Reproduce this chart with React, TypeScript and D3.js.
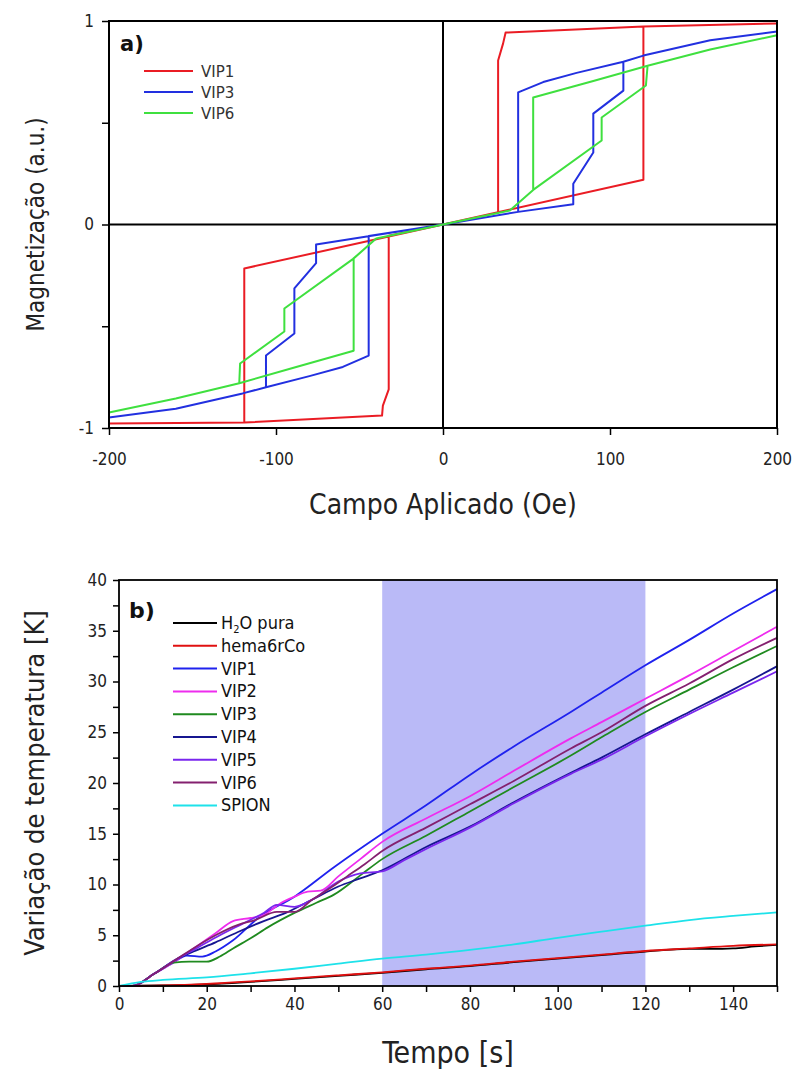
import * as d3 from "d3";
import { useEffect, useRef } from "react";

const W = 795;
const H = 1072;
const COND = "'DejaVu Sans Condensed', 'DejaVu Sans', sans-serif";
const SANS = "'DejaVu Sans', sans-serif";

// ---- panel a) hysteresis loops: [campo (Oe), magnetização (a.u.)]
const campoTicks = [-200, -100, 0, 100, 200];
const magTicks = [-1, -0.5, 0, 0.5, 1];
const magLabels = [-1, 0, 1];

const vip1Loop = [
  [-200, -0.978], [-119, -0.973], [-36.5, -0.939], [-36, -0.89], [-32.5, -0.81],
  [-32.5, -0.055], [0, 0], [120, 0.22], [120, 0.973], [200, 0.988],
  [120, 0.973], [37.5, 0.943], [36, 0.89], [33, 0.806], [33, 0.059], [0, 0],
  [-119, -0.216], [-119, -0.973], [-200, -0.978],
];
const vip3Loop = [
  [-200, -0.948], [-160, -0.905], [-120, -0.83], [-106, -0.8], [-80, -0.745], [-60, -0.7],
  [-44.5, -0.644], [-44.5, -0.056], [0, 0], [45, 0.062], [78, 0.1], [78, 0.2], [90, 0.354],
  [90, 0.545], [108, 0.658], [108, 0.8], [120, 0.83], [160, 0.905], [200, 0.948],
  [160, 0.905], [120, 0.83], [108, 0.8], [80, 0.745], [60, 0.7], [45, 0.649], [45, 0.062],
  [0, 0], [-76, -0.098], [-76, -0.19], [-89, -0.314], [-89, -0.536], [-106, -0.644],
  [-106, -0.8], [-120, -0.83], [-160, -0.905], [-200, -0.948],
];
const vip6Loop = [
  [-200, -0.924], [-160, -0.855], [-122, -0.78], [-90, -0.705], [-53.5, -0.62],
  [-53.5, -0.167], [-40, -0.069], [0, 0], [40, 0.069], [54, 0.17], [95, 0.413],
  [95, 0.526], [121.5, 0.683], [122.5, 0.78], [160, 0.86], [200, 0.93],
  [160, 0.86], [122.5, 0.78], [90, 0.705], [54, 0.624], [54, 0.17], [40, 0.069], [0, 0],
  [-40, -0.069], [-54, -0.17], [-95, -0.413], [-95, -0.526], [-121.5, -0.683],
  [-122, -0.78], [-160, -0.855], [-200, -0.924],
];
const loopNames = ["VIP1", "VIP3", "VIP6"];
const loopColors = ["#ea1c24", "#2230e0", "#3fe03f"];
const loops = [vip1Loop, vip3Loop, vip6Loop];

// ---- panel b) heating curves: [tempo (s), variação de temperatura (K)]
const tempoTicks = d3.range(0, 151, 10);
const tempoLabels = d3.range(0, 141, 20);
const tempTicks = d3.range(0, 40.1, 2.5);
const tempLabels = d3.range(0, 41, 5);
const campoOn = [60, 120];

const h2o = [
  [0, 0], [10, 0.05], [20, 0.15], [30, 0.4], [40, 0.7], [50, 1.0], [60, 1.3], [70, 1.65],
  [80, 1.95], [90, 2.35], [100, 2.7], [110, 3.05], [120, 3.4], [130, 3.65], [135, 3.65],
  [140, 3.7], [145, 3.9], [150, 4.05],
];
const hema6rCo = [
  [0, 0], [10, 0.05], [20, 0.2], [30, 0.45], [40, 0.75], [50, 1.05], [60, 1.35], [70, 1.7],
  [80, 2.0], [90, 2.4], [100, 2.75], [110, 3.1], [120, 3.45], [130, 3.7], [140, 3.95], [150, 4.1],
];
const vip1 = [
  [0, 0], [3, 0], [8, 1.2], [12, 2.2], [15.5, 3.0], [19, 2.9], [22, 3.4], [26, 4.5], [32, 6.8],
  [40, 8.8], [49, 11.7], [60, 15.0], [70, 17.8], [80, 20.8], [90, 23.6], [103, 27.0],
  [110, 28.9], [120, 31.6], [130, 34.1], [140, 36.7], [150, 39.1],
];
const vip2 = [
  [0, 0], [3, 0], [8, 1.2], [13, 2.5], [18, 4.0], [22, 5.2], [26, 6.4], [30, 6.7], [33, 7.0],
  [37, 8.2], [40, 8.8], [43, 9.3], [46, 9.4], [50, 10.8], [55, 12.5], [60, 14.2], [70, 16.5],
  [80, 18.7], [90, 21.2], [103, 24.4], [110, 26.0], [120, 28.3], [130, 30.6], [140, 33.0],
  [150, 35.4],
];
const vip3 = [
  [0, 0], [3, 0], [8, 1.2], [12.5, 2.3], [16, 2.4], [20, 2.4], [23, 2.9], [26, 3.7], [30, 4.7],
  [34, 5.8], [40, 7.2], [45, 8.2], [49, 9.0], [55, 10.9], [60, 12.5], [70, 14.8], [80, 17.2],
  [90, 19.6], [103, 22.7], [110, 24.5], [120, 27.0], [130, 29.2], [140, 31.4], [150, 33.5],
];
const vip4 = [
  [0, 0], [3, 0], [8, 1.2], [13, 2.6], [17, 3.4], [22, 4.3], [27, 5.3], [33, 6.4], [38, 7.2],
  [44, 8.5], [50, 9.8], [55, 10.6], [60, 11.4], [70, 13.7], [80, 15.7], [90, 18.1],
  [103, 21.0], [110, 22.5], [120, 24.8], [130, 27.0], [140, 29.2], [150, 31.5],
];
const vip5 = [
  [0, 0], [3, 0], [8, 1.2], [13, 2.6], [18, 3.8], [23, 5.0], [28, 6.1], [33, 7.2], [36, 8.0],
  [40, 7.8], [44, 8.5], [50, 10.3], [55, 11.1], [60, 11.3], [65, 12.4], [70, 13.5],
  [80, 15.6], [90, 18.0], [103, 20.9], [110, 22.3], [120, 24.6], [130, 26.8], [140, 28.9],
  [150, 31.0],
];
const vip6 = [
  [0, 0], [3, 0], [8, 1.2], [13, 2.6], [18, 4.0], [22, 5.0], [27, 6.0], [31, 6.5], [36, 7.3],
  [40, 7.3], [44, 8.5], [48, 9.6], [52, 10.8], [56, 12.0], [60, 13.3], [70, 15.6], [80, 17.9],
  [90, 20.2], [103, 23.4], [110, 25.0], [120, 27.6], [130, 29.8], [140, 32.2], [150, 34.3],
];
const spion = [
  [0, 0], [5, 0.4], [10, 0.6], [20, 0.85], [30, 1.25], [40, 1.7], [50, 2.2], [60, 2.7],
  [70, 3.1], [80, 3.55], [90, 4.1], [100, 4.75], [110, 5.35], [120, 5.94], [130, 6.5],
  [140, 6.9], [150, 7.25],
];
const heatNames = ["H2O pura", "hema6rCo", "VIP1", "VIP2", "VIP3", "VIP4", "VIP5", "VIP6", "SPION"];
const heatColors = ["#000000", "#e01010", "#1f22ee", "#ee2cee", "#1f8a1f", "#161690", "#7a26ee", "#84206f", "#1ee2ea"];
const heatSeries = [h2o, hema6rCo, vip1, vip2, vip3, vip4, vip5, vip6, spion];

function styleAxis(g, size) {
  g.select(".domain").remove();
  g.selectAll("line").attr("stroke", "#000").attr("stroke-width", 1.5);
  g.selectAll("text").attr("font-family", COND).attr("font-size", size).attr("fill", "#222");
}

function drawHysteresis(g) {
  const left = 109, right = 777, top = 21, bottom = 428;
  const x = d3.scaleLinear().domain([-200, 200]).range([left, right]);
  const y = d3.scaleLinear().domain([-1, 1]).range([bottom, top]);

  // crosshair at zero
  g.append("line").attr("x1", x(0)).attr("x2", x(0)).attr("y1", top).attr("y2", bottom)
    .attr("stroke", "#000").attr("stroke-width", 2);
  g.append("line").attr("x1", left).attr("x2", right).attr("y1", y(0)).attr("y2", y(0))
    .attr("stroke", "#000").attr("stroke-width", 2);

  const line = d3.line().x((d) => x(d[0])).y((d) => y(d[1]));
  loops.forEach((pts, i) => {
    g.append("path").attr("d", line(pts)).attr("fill", "none")
      .attr("stroke", loopColors[i]).attr("stroke-width", 2).attr("stroke-linejoin", "round");
  });

  g.append("rect").attr("x", left).attr("y", top).attr("width", right - left).attr("height", bottom - top)
    .attr("fill", "none").attr("stroke", "#000").attr("stroke-width", 2);

  const xa = g.append("g").attr("transform", `translate(0,${bottom})`)
    .call(d3.axisBottom(x).tickValues(campoTicks).tickSize(7).tickPadding(18).tickFormat((d) => String(d)));
  styleAxis(xa, 17);
  const ya = g.append("g").attr("transform", `translate(${left},0)`)
    .call(d3.axisLeft(y).tickValues(magTicks).tickSize(7).tickPadding(8)
      .tickFormat((d) => (magLabels.includes(d) ? String(d) : "")));
  styleAxis(ya, 17);

  g.append("text").attr("x", (left + right) / 2).attr("y", 514).attr("text-anchor", "middle")
    .attr("font-family", COND).attr("font-size", 28).attr("fill", "#222").text("Campo Aplicado (Oe)");
  g.append("text").attr("transform", `translate(44,${y(0)}) rotate(-90)`).attr("text-anchor", "middle")
    .attr("font-family", COND).attr("font-size", 24).attr("fill", "#222").text("Magnetização (a.u.)");

  g.append("text").attr("x", 120).attr("y", 51).attr("font-family", SANS).attr("font-weight", "bold")
    .attr("font-size", 21).attr("fill", "#111").text("a)");
  loopNames.forEach((n, i) => {
    const ly = 71 + i * 21;
    g.append("line").attr("x1", 144).attr("x2", 193).attr("y1", ly).attr("y2", ly)
      .attr("stroke", loopColors[i]).attr("stroke-width", 2);
    g.append("text").attr("x", 201).attr("y", ly + 6).attr("font-family", SANS).attr("font-size", 15)
      .attr("fill", "#333").text(n);
  });
}

function drawHeating(g) {
  const left = 119, right = 777, top = 580, bottom = 986;
  const x = d3.scaleLinear().domain([0, 150]).range([left, right]);
  const y = d3.scaleLinear().domain([0, 40]).range([bottom, top]);

  g.append("rect").attr("x", x(campoOn[0])).attr("y", top).attr("width", x(campoOn[1]) - x(campoOn[0]))
    .attr("height", bottom - top).attr("fill", "#babaf7");

  const line = d3.line().x((d) => x(d[0])).y((d) => y(d[1])).curve(d3.curveMonotoneX);
  heatSeries.forEach((pts, i) => {
    g.append("path").attr("d", line(pts)).attr("fill", "none")
      .attr("stroke", heatColors[i]).attr("stroke-width", 1.8).attr("stroke-linejoin", "round");
  });

  g.append("rect").attr("x", left).attr("y", top).attr("width", right - left).attr("height", bottom - top)
    .attr("fill", "none").attr("stroke", "#000").attr("stroke-width", 1.8);

  const xa = g.append("g").attr("transform", `translate(0,${bottom})`)
    .call(d3.axisBottom(x).tickValues(tempoTicks).tickSize(6).tickPadding(6)
      .tickFormat((d) => (tempoLabels.includes(d) ? String(d) : "")));
  styleAxis(xa, 17);
  const ya = g.append("g").attr("transform", `translate(${left},0)`)
    .call(d3.axisLeft(y).tickValues(tempTicks).tickSize(6).tickPadding(6)
      .tickFormat((d) => (tempLabels.includes(d) ? String(d) : "")));
  styleAxis(ya, 17);

  g.append("text").attr("x", (left + right) / 2).attr("y", 1063).attr("text-anchor", "middle")
    .attr("font-family", COND).attr("font-size", 30).attr("fill", "#222").text("Tempo [s]");
  g.append("text").attr("transform", `translate(44,${(top + bottom) / 2}) rotate(-90)`).attr("text-anchor", "middle")
    .attr("font-family", COND).attr("font-size", 27).attr("fill", "#222").text("Variação de temperatura [K]");

  g.append("text").attr("x", 129).attr("y", 618).attr("font-family", SANS).attr("font-weight", "bold")
    .attr("font-size", 22).attr("fill", "#111").text("b)");
  heatNames.forEach((n, i) => {
    const ly = 623 + i * 22.8;
    g.append("line").attr("x1", 173).attr("x2", 217).attr("y1", ly).attr("y2", ly)
      .attr("stroke", heatColors[i]).attr("stroke-width", 2);
    const t = g.append("text").attr("x", 221).attr("y", ly + 6).attr("font-family", COND)
      .attr("font-size", 18).attr("fill", "#111");
    if (i === 0) {
      t.append("tspan").text("H");
      t.append("tspan").attr("font-size", 11).attr("dy", 4).text("2");
      t.append("tspan").attr("dy", -4).text("O pura");
    } else {
      t.text(n);
    }
  });
}

export default function App() {
  const ref = useRef(null);
  useEffect(() => {
    const svg = d3.select(ref.current);
    svg.selectAll("*").remove();
    drawHysteresis(svg.append("g"));
    drawHeating(svg.append("g"));
  }, []);
  return (
    <svg ref={ref} width={W} height={H}
      style={{ position: "absolute", left: 0, top: 0, background: "#fff" }} />
  );
}
